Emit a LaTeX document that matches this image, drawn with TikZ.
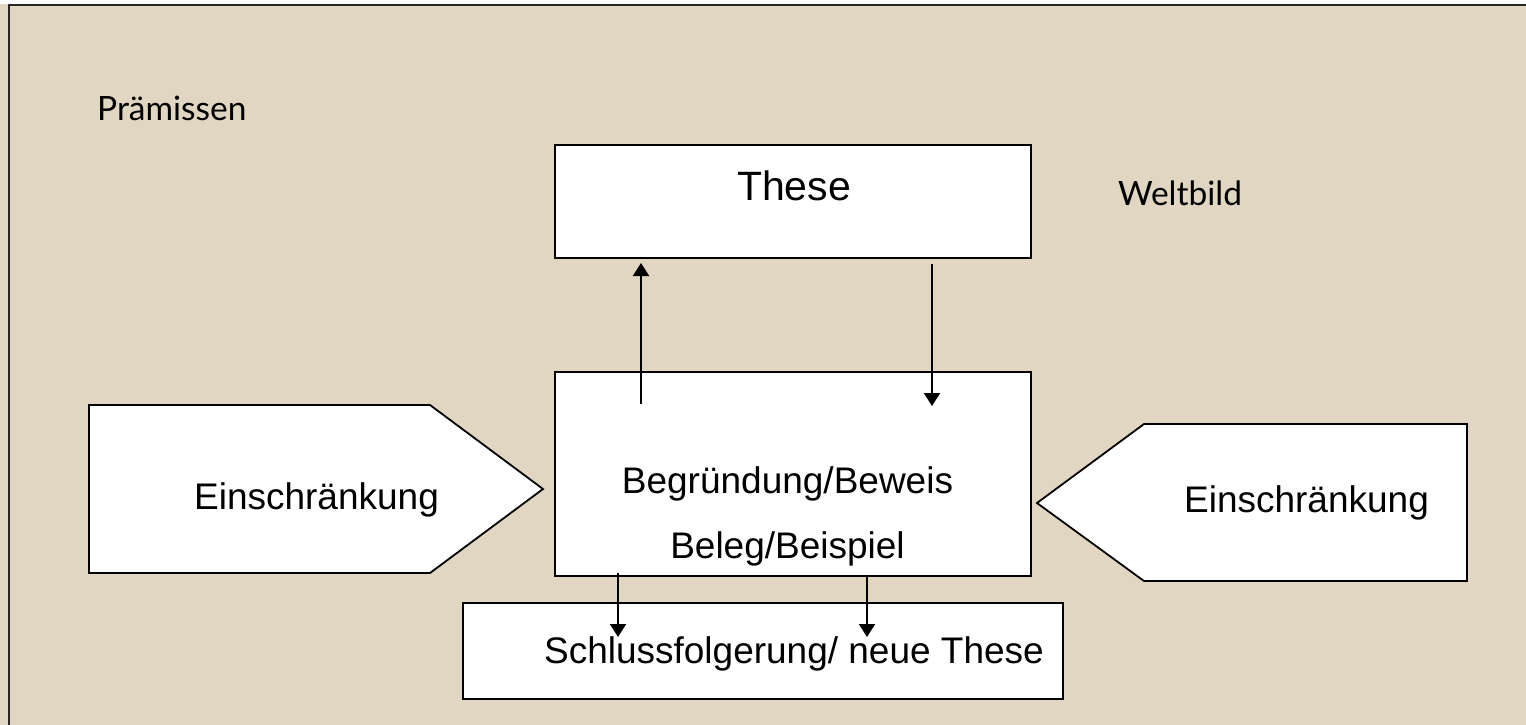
\documentclass[tikz,border=0pt]{standalone}
\usepackage{fontspec}
\setmainfont{Liberation Sans}
\newfontfamily\gillfont{Lato}
\usetikzlibrary{arrows.meta}
\definecolor{bgbeige}{RGB}{224,214,194}
\tikzset{
  boxshape/.style={draw=black, fill=white, line width=2pt, minimum width=#1, inner sep=0pt},
  lbl/.style={anchor=base, inner sep=0pt, font=\fontsize{37}{44}\selectfont},
  gill/.style={anchor=base west, inner sep=0pt, font=\gillfont\fontsize{33.5}{40}\selectfont},
  pent/.style={draw=black, fill=white, line width=1.8pt, line join=miter},
  arr/.style={line width=2pt, -{Triangle[width=16pt,length=13pt]}},
}
\begin{document}
\begin{tikzpicture}[x=1pt,y=-1pt]
\useasboundingbox (0,0) rectangle (1526,725);
\fill[bgbeige] (0,0) rectangle (1526,725);
\fill[white] (0,0) rectangle (1526,4);
\draw[line width=2.2pt, draw=black!85] (9,725) -- (9,5) -- (1526,5);

% boxes
\node[boxshape=476pt, minimum height=113pt] (these) at (793,201.5) {};
\node[boxshape=476pt, minimum height=204pt] (begr) at (793,474) {};
\node[boxshape=600pt, minimum height=96pt] (schluss) at (763,651) {};

% pentagons
\draw[pent] (89,405) -- (430,405) -- (543,489) -- (430,573) -- (89,573) -- cycle;
\draw[pent] (1467,424) -- (1144,424) -- (1037,503) -- (1144,581) -- (1467,581) -- cycle;

% texts
\node[lbl, font=\fontsize{41}{48}\selectfont] (theseT) at (794,200) {These};
\node[lbl] (begrT) at (787.5,493) {Begründung/Beweis};
\node[lbl] (belegT) at (787.5,558) {Beleg/Beispiel};
\node[lbl] (schlussT) at (794,663) {Schlussfolgerung/ neue These};
\node[lbl] (einL) at (316.5,509) {Einschränkung};
\node[lbl] (einR) at (1306.5,512) {Einschränkung};
\node[gill] (praem) at (97,120) {Prämissen};
\node[gill] (welt) at (1118,205) {Weltbild};

% arrow end points
\coordinate (upS) at (641,404);
\coordinate (upE) at (641,263);
\coordinate (dnS) at (932,264);
\coordinate (dnE) at (932,406);
\coordinate (bl1S) at (618,573);
\coordinate (bl1E) at (618,637);
\coordinate (bl2S) at (867,577);
\coordinate (bl2E) at (867,637);

\draw[arr] (upS) -- (upE);
\draw[arr] (dnS) -- (dnE);
\draw[arr] (bl1S) -- (bl1E);
\draw[arr] (bl2S) -- (bl2E);
\end{tikzpicture}
\end{document}
